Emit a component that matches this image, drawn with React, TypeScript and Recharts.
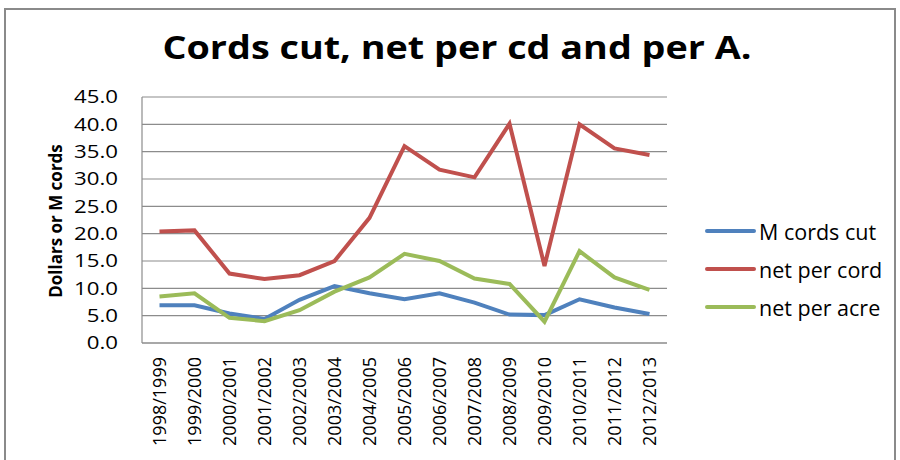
import { LineChart, Line, XAxis, YAxis, CartesianGrid } from "recharts";

const seasons = [
  "1998/1999", "1999/2000", "2000/2001", "2001/2002", "2002/2003",
  "2003/2004", "2004/2005", "2005/2006", "2006/2007", "2007/2008",
  "2008/2009", "2009/2010", "2010/2011", "2011/2012", "2012/2013",
];
const cordsCut = [6.9, 6.9, 5.4, 4.4, 7.9, 10.4, 9.1, 8.0, 9.1, 7.4, 5.2, 5.1, 8.0, 6.5, 5.3];
const netPerCord = [20.4, 20.6, 12.7, 11.7, 12.4, 15.0, 22.9, 36.0, 31.7, 30.3, 40.1, 14.1, 40.0, 35.6, 34.4];
const netPerAcre = [8.5, 9.1, 4.6, 4.0, 6.0, 9.4, 12.0, 16.3, 15.0, 11.8, 10.8, 3.9, 16.8, 12.0, 9.7];
const yTicks = [0, 5, 10, 15, 20, 25, 30, 35, 40, 45];

const series = [
  { key: "cords", name: "M cords cut", color: "#4F81BD" },
  { key: "perCord", name: "net per cord", color: "#C0504D" },
  { key: "perAcre", name: "net per acre", color: "#9BBB59" },
];

const data = seasons.map((s, i) => ({
  season: s,
  cords: cordsCut[i],
  perCord: netPerCord[i],
  perAcre: netPerAcre[i],
}));

const FONT = "'Open Sans', sans-serif";

function SeasonTick(props: any) {
  const { x, payload } = props;
  return (
    <text
      transform={`translate(${x},357) rotate(-90)`}
      textAnchor="end"
      dy="0.35em"
      fontSize={18}
      fontFamily={FONT}
      fill="#000"
    >
      {payload.value}
    </text>
  );
}

function ValueTick(props: any) {
  const { x, y, payload } = props;
  return (
    <g transform={`translate(${x},${y}) scale(1.27,1)`}>
      <text x={0} y={0} dy="0.36em" textAnchor="end" fontSize={17.5} fontFamily={FONT} fill="#000">
        {Number(payload.value).toFixed(1)}
      </text>
    </g>
  );
}

export default function App() {
  return (
    <div style={{ position: "absolute", left: 0, top: 0, width: 900, height: 460, background: "#fff", overflow: "hidden" }}>
      {/* frame */}
      <div style={{ position: "absolute", left: 4, top: 8, width: 888, height: 480, border: "2px solid #8a8a8a" }} />
      <div
        style={{
          position: "absolute", left: 457, top: 25, transform: "translateX(-50%) scaleX(1.18)",
          fontFamily: FONT, fontWeight: 700, fontSize: 32, color: "#000", whiteSpace: "nowrap",
        }}
      >
        Cords cut, net per cd and per A.
      </div>
      <div
        style={{
          position: "absolute", left: 55, top: 221, transform: "translate(-50%, -50%) rotate(-90deg)",
          whiteSpace: "nowrap", fontFamily: FONT, fontWeight: 700, fontSize: 17, color: "#000",
        }}
      >
        Dollars or M cords
      </div>
      <LineChart
        width={900}
        height={460}
        data={data}
        margin={{ top: 97, right: 233, bottom: 0, left: 0 }}
        style={{ position: "absolute", left: 0, top: 0 }}
      >
        <CartesianGrid vertical={false} stroke="#8c8c8c" strokeWidth={1.2} />
        <XAxis
          dataKey="season"
          interval={0}
          tickLine={false}
          padding={{ left: 17.5, right: 17.5 }}
          axisLine={{ stroke: "#8c8c8c", strokeWidth: 1.2 }}
          tick={<SeasonTick />}
          height={117}
        />
        <YAxis
          width={142}
          domain={[0, 45]}
          ticks={yTicks}
          tickLine={false}
          tickSize={22}
          axisLine={{ stroke: "#8c8c8c", strokeWidth: 1.2 }}
          tick={<ValueTick />}
        />
        {series.map((s) => (
          <Line
            key={s.key}
            type="linear"
            dataKey={s.key}
            name={s.name}
            stroke={s.color}
            strokeWidth={4}
            dot={false}
            isAnimationActive={false}
          />
        ))}
      </LineChart>
      {/* legend */}
      <div style={{ position: "absolute", left: 705, top: 212, fontFamily: FONT, fontSize: 21.5, color: "#000" }}>
        {series.map((s) => (
          <div key={s.key} style={{ display: "flex", alignItems: "center", height: 38 }}>
            <div style={{ width: 51, height: 4, background: s.color, borderRadius: 2, marginRight: 3 }} />
            <span>{s.name}</span>
          </div>
        ))}
      </div>
    </div>
  );
}
